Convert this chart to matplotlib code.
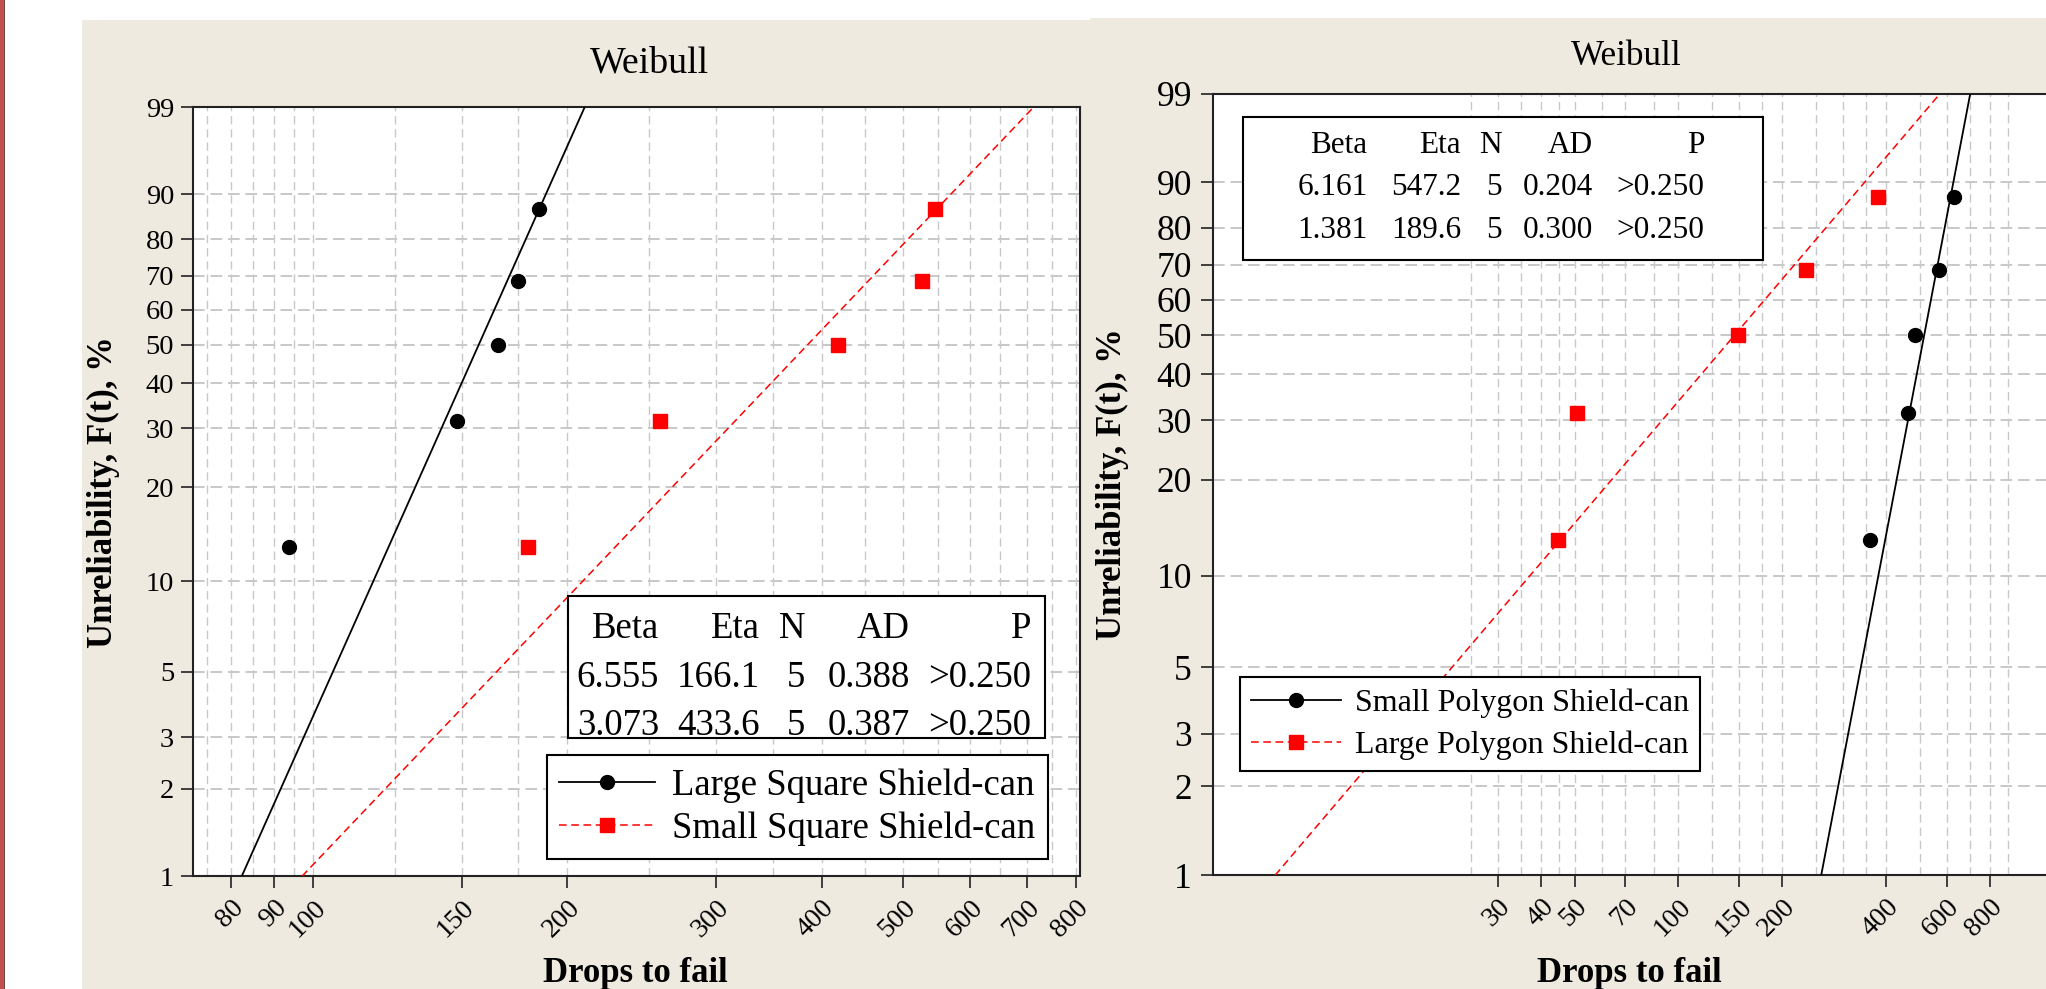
import numpy as np
import matplotlib
matplotlib.use("Agg")
import matplotlib.pyplot as plt
from matplotlib.patches import Rectangle
from matplotlib.lines import Line2D
from matplotlib.ticker import FixedLocator, NullFormatter, NullLocator

plt.rcParams['font.family'] = ['Liberation Serif', 'DejaVu Serif']

# median ranks (%) of the five failures
ranks = [12.96, 31.48, 50.0, 68.52, 87.04]

# left plot: square shield-cans
large_square = [93.7, 148.0, 165.6, 174.8, 185.4]
small_square = [179.5, 257.6, 417.9, 525.8, 545.0]
sq_names = ['Large Square Shield-can', 'Small Square Shield-can']
sq_beta = [6.555, 3.073]
sq_eta = [166.1, 433.6]
sq_ad = [0.388, 0.387]
sq_xticks = [80, 90, 100, 150, 200, 300, 400, 500, 600, 700, 800]
sq_xgrid = [75, 85, 95, 125, 175, 250, 350, 450, 550, 650, 750]

# right plot: polygon shield-cans
small_polygon = [358.8, 463.7, 485.0, 570.5, 629.0]
large_polygon = [44.9, 50.7, 148.4, 234.1, 379.7]
pg_names = ['Small Polygon Shield-can', 'Large Polygon Shield-can']
pg_beta = [6.161, 1.381]
pg_eta = [547.2, 189.6]
pg_ad = [0.204, 0.300]
pg_xticks = [30, 40, 50, 70, 100, 150, 200, 400, 600, 800]
pg_xgrid = [25, 35, 45, 60, 85, 125, 175, 250, 300, 350, 500, 700, 900]

n_fail = 5
p_value = '>0.250'
header = ['Beta', 'Eta', 'N', 'AD', 'P']
yticks = [1, 2, 3, 5, 10, 20, 30, 40, 50, 60, 70, 80, 90, 99]

W, H = 2046, 989
beige = '#eeeae0'
grid_c = '#c8c8c8'


def fx(x):
    return x / W


def fy(y):
    return 1 - y / H


def box(x0, y0, x1, y1):
    return [fx(x0), fy(y1), (x1 - x0) / W, (y1 - y0) / H]


def weib(p):
    p = np.clip(np.asarray(p, dtype=float), 1e-6, 100 - 1e-6) / 100
    return np.log(-np.log(1 - p))


def weib_inv(z):
    return 100 * (1 - np.exp(-np.exp(z)))


def fit_line(beta, eta):
    pct = np.linspace(1, 99, 60)
    t = eta * (-np.log(1 - pct / 100)) ** (1 / beta)
    return t, pct


fig = plt.figure(figsize=(W / 100, H / 100), dpi=100, facecolor='white')

# panel backgrounds and the border strip on the left edge
fig.add_artist(Rectangle((fx(82), 0), (1090 - 82) / W, fy(20), transform=fig.transFigure,
                         facecolor=beige, edgecolor='none', zorder=-10))
fig.add_artist(Rectangle((fx(1090), 0), (W - 1090) / W, fy(17.7), transform=fig.transFigure,
                         facecolor=beige, edgecolor='none', zorder=-10))
fig.add_artist(Rectangle((0, 0), 3.5 / W, 1, transform=fig.transFigure,
                         facecolor='#c44f4f', edgecolor='none', zorder=-9))
fig.add_artist(Rectangle((3.5 / W, 0), 1.3 / W, 1, transform=fig.transFigure,
                         facecolor='#6b4a4a', edgecolor='none', zorder=-9))


def setup(ax, xlim, xticks, xgrid, ysize, ypad):
    ax.set_facecolor('white')
    ax.set_xscale('log')
    ax.set_yscale('function', functions=(weib, weib_inv))
    ax.set_xlim(*xlim)
    ax.set_ylim(1, 99)
    ax.set_yticks(yticks, [str(v) for v in yticks])
    ax.yaxis.set_minor_locator(NullLocator())
    ax.set_xticks(xticks, [str(v) for v in xticks], rotation=45, ha='right', va='top',
                  rotation_mode='anchor')
    ax.xaxis.set_minor_locator(FixedLocator(xgrid))
    ax.xaxis.set_minor_formatter(NullFormatter())
    ax.tick_params(axis='both', which='major', length=8.6, width=1.2, color='#222222')
    ax.tick_params(axis='x', which='major', labelsize=20, pad=5)
    ax.tick_params(axis='y', which='major', labelsize=ysize, pad=ypad)
    ax.tick_params(which='minor', length=0)
    ax.grid(True, axis='y', which='major', color=grid_c, lw=1.4, ls=(0, (6, 3)))
    ax.grid(True, axis='x', which='both', color=grid_c, lw=1.0, ls=(0, (6, 3.5)))
    ax.set_axisbelow(True)
    for s in ax.spines.values():
        s.set_linewidth(1.5)
        s.set_color('#222222')


def stats_table(x0, y0, x1, y1, col_right, baselines, betas, etas, ads, size):
    fig.add_artist(Rectangle((fx(x0), fy(y1)), (x1 - x0) / W, (y1 - y0) / H,
                             transform=fig.transFigure, facecolor='white',
                             edgecolor='black', lw=1.5, zorder=5))
    rows = [header] + [[f'{b:.3f}', f'{e:.1f}', str(n_fail), f'{a:.3f}', p_value]
                       for b, e, a in zip(betas, etas, ads)]
    for row, yb in zip(rows, baselines):
        for txt, xr in zip(row, col_right):
            fig.text(fx(xr), fy(yb), txt, ha='right', va='baseline', fontsize=size, zorder=6)


def draw_series(ax, times, betas, etas):
    t, pct = fit_line(betas[0], etas[0])
    ax.plot(t, pct, color='black', lw=1.3, zorder=3)
    ax.plot(times[0], ranks, 'o', color='black', ms=10, zorder=4)
    t, pct = fit_line(betas[1], etas[1])
    ax.plot(t, pct, color='#ff0000', lw=1.1, ls=(0, (5, 3)), zorder=3)
    ax.plot(times[1], ranks, 's', color='#ff0000', ms=10.5, zorder=4)


def add_legend(ax, names, x0, y0, size, hlen, spacing):
    handles = [Line2D([], [], color='black', lw=1.3, marker='o', ms=10),
               Line2D([], [], color='#ff0000', lw=1.1, ls=(0, (5, 3)), marker='s', ms=10.5)]
    leg = ax.legend(handles, names, loc='upper left', bbox_to_anchor=(fx(x0), fy(y0)),
                    bbox_transform=fig.transFigure, fontsize=size, frameon=True,
                    fancybox=False, framealpha=1, edgecolor='black', borderaxespad=0,
                    borderpad=0.35, labelspacing=spacing, handlelength=hlen,
                    handletextpad=0.45, numpoints=1)
    leg.get_frame().set_linewidth(1.5)
    leg.set_zorder(6)


# left: square shield-cans
axL = fig.add_axes(box(193, 107.3, 1080.3, 876.3))
setup(axL, (72.1, 809.8), sq_xticks, sq_xgrid, 20.5, 5)
draw_series(axL, [large_square, small_square], sq_beta, sq_eta)
stats_table(568.2, 595.7, 1044.5, 738.3, [659, 760, 805, 910, 1031], [638, 687, 735],
            sq_beta, sq_eta, sq_ad, 26.5)
add_legend(axL, sq_names, 546.5, 755.3, 26.5, 2.6, 0.22)

# right: polygon shield-cans
axR = fig.add_axes(box(1213, 93.7, 2048, 875.3))
setup(axR, (4.48, 1178), pg_xticks, pg_xgrid, 25.5, 6.5)
draw_series(axR, [small_polygon, large_polygon], pg_beta, pg_eta)
stats_table(1243, 117, 1762.6, 259.7, [1367.5, 1461, 1502, 1593, 1704], [152.7, 195, 238.3],
            pg_beta, pg_eta, pg_ad, 22.5)
add_legend(axR, pg_names, 1240, 677.3, 23, 2.8, 0.4)

# titles and axis labels
fig.text(fx(649), fy(72.7), 'Weibull', ha='center', va='baseline', fontsize=27.3)
fig.text(fx(1626.6), fy(65), 'Weibull', ha='center', va='baseline', fontsize=25.3)
for xc, yc in [(103, 492), (1112, 484)]:
    fig.text(fx(xc), fy(yc), 'Unreliability, F(t), %', rotation=90, ha='center', va='center',
             fontsize=25, fontweight='bold')
for xc in [635, 1629]:
    fig.text(fx(xc), fy(982.5), 'Drops to fail', ha='center', va='baseline',
             fontsize=25, fontweight='bold')

fig.savefig('out.png', dpi=100, facecolor='white')
